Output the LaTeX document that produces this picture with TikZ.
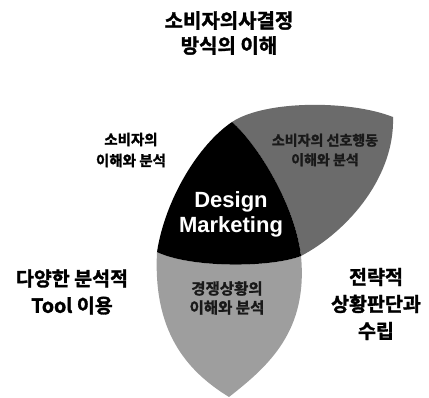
\documentclass[tikz,border=0pt]{standalone}
\usepackage{fontspec}
\setmainfont{Noto Sans CJK KR}[BoldFont={Noto Sans CJK KR Bold}, BoldFeatures={FakeBold=1.6}]
\newfontfamily\latinbold{Liberation Sans}
\definecolor{leafdark}{gray}{0.42}
\definecolor{leaflight}{gray}{0.62}

\begin{document}
\begin{tikzpicture}[
  x=1pt, y=-1pt,
  every node/.style={font=\bfseries, align=center, inner sep=0pt},
  outer/.style={font=\fontsize{19.5}{27}\selectfont\bfseries},
  inner/.style={font=\fontsize{14.5}{21}\selectfont\bfseries},
  onleaf/.style={text=black!90}
]
\useasboundingbox (0,0) rectangle (429,398);

% corners of the three leaves
\coordinate (top) at (232,122);
\coordinate (tip) at (393,117);
\coordinate (mid) at (301,256);
\coordinate (left) at (157,252);
\coordinate (bot) at (229,397);

% lower leaf
\fill[leaflight] (left) .. controls (153,330) and (185,370) .. (bot)
  .. controls (270,365) and (308,330) .. (mid)
  .. controls (270,268) and (190,268) .. (left) -- cycle;
% upper right leaf
\fill[leafdark] (top) .. controls (265,100) and (350,100) .. (tip)
  .. controls (395,175) and (350,230) .. (mid)
  .. controls (295,205) and (258,145) .. (top) -- cycle;
% centre piece
\fill[black] (top) .. controls (258,145) and (295,205) .. (mid)
  .. controls (270,268) and (190,268) .. (left)
  .. controls (165,200) and (198,145) .. (top) -- cycle;

\node[font=\fontsize{20}{25}\selectfont\bfseries] (title) at (229,33) {소비자의사결정\\방식의 이해};
\node[inner] (consumer) at (131,150) {소비자의\\이해와 분석};
\node[inner, onleaf, font=\fontsize{14}{19.5}\selectfont\bfseries] (prefer) at (325,150) {소비자의 선호행동\\이해와 분석};
\node[text=white, font=\fontsize{22}{25}\selectfont\latinbold\bfseries] (dm) at (231,214) {Design\\Marketing};
\node[onleaf, font=\fontsize{15.5}{19}\selectfont\bfseries] (compete) at (227,298) {경쟁상황의\\이해와 분석};
\node[outer] (tools) at (72,292) {다양한 분석적\\Tool 이용};
\node[outer] (strategy) at (376,304) {전략적\\상황판단과\\수립};
\end{tikzpicture}
\end{document}
